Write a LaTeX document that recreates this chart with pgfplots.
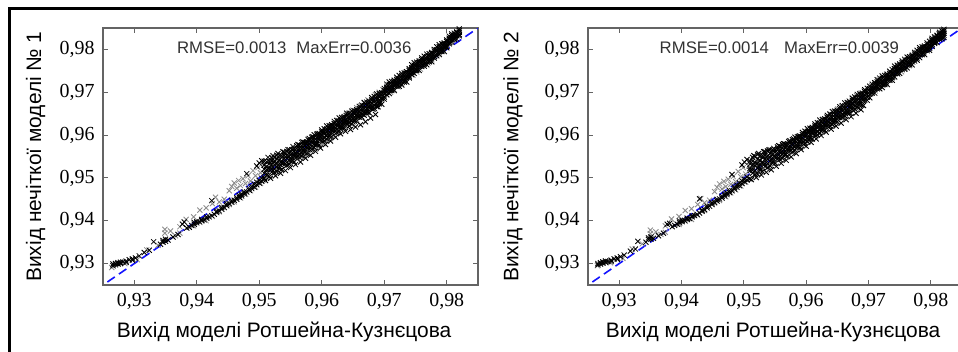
\documentclass[border=0pt]{standalone}
\usepackage{pgfplots}
\usepackage{pgfplotstable}
\pgfplotsset{compat=1.18}
\usepackage{fontspec}
\setmainfont{Liberation Sans}
\newfontfamily\serifnum{Liberation Serif}
\definecolor{axgray}{RGB}{100,100,100}
\definecolor{ptgray}{RGB}{140,140,140}
\definecolor{txtgray}{RGB}{50,50,50}
\definecolor{dblue}{RGB}{20,20,255}

% ---- model 1, black points ----
\pgfplotstableread{
x a b c d e
0.9266 0.9295 0.9299 nan nan nan
0.9270 0.9300 0.9297 nan nan nan
0.9274 0.9302 0.9299 nan nan nan
0.9278 0.9303 0.9300 nan nan nan
0.9282 0.9304 nan nan nan nan
0.9287 0.9306 0.9303 nan nan nan
0.9292 0.9309 nan nan nan nan
0.9297 0.9311 0.9308 nan nan nan
0.9302 0.9313 nan nan nan nan
0.9308 0.9318 nan nan nan nan
0.9316 0.9326 nan nan nan nan
0.9324 0.9331 nan nan nan nan
0.9331 0.9351 nan nan nan nan
0.9342 0.9345 nan nan nan nan
0.9346 0.9350 0.9354 nan nan nan
0.9350 0.9352 0.9357 nan nan nan
0.9354 0.9355 nan nan nan nan
0.9362 0.9362 nan nan nan nan
0.9370 0.9368 nan nan nan nan
0.9377 0.9392 nan nan nan nan
0.9380 0.9397 nan nan nan nan
0.9384 0.9383 nan nan nan nan
0.9388 0.9385 nan nan nan nan
0.9392 0.9389 nan nan nan nan
0.9396 0.9392 0.9396 nan nan nan
0.9400 0.9395 0.9398 nan nan nan
0.9404 0.9398 nan nan nan nan
0.9408 0.9400 0.9403 nan nan nan
0.9412 0.9402 nan nan nan nan
0.9416 0.9406 0.9409 nan nan nan
0.9420 0.9409 nan nan nan nan
0.9424 0.9412 0.9447 nan nan nan
0.9428 0.9415 nan nan nan nan
0.9432 0.9419 0.9422 nan nan nan
0.9436 0.9423 nan nan nan nan
0.9440 0.9427 0.9431 nan nan nan
0.9444 0.9431 nan nan nan nan
0.9448 0.9435 0.9439 nan nan nan
0.9452 0.9440 nan nan nan nan
0.9456 0.9443 0.9447 nan nan nan
0.9460 0.9448 nan nan nan nan
0.9464 0.9450 0.9454 nan nan nan
0.9468 0.9455 0.9459 nan nan nan
0.9472 0.9458 0.9462 nan nan nan
0.9476 0.9463 0.9467 nan nan nan
0.9480 0.9467 0.9510 nan nan nan
0.9484 0.9471 0.9475 nan nan nan
0.9488 0.9475 0.9480 nan nan nan
0.9492 0.9479 0.9485 nan nan nan
0.9496 0.9484 0.9490 0.9528 nan nan
0.9500 0.9488 0.9494 0.9535 nan nan
0.9504 0.9492 0.9499 0.9540 nan nan
0.9508 0.9499 0.9511 0.9520 0.9530 0.9539
0.9512 0.9506 0.9510 0.9519 0.9527 0.9538
0.9516 0.9503 0.9520 0.9524 0.9533 0.9539
0.9520 0.9514 0.9521 0.9531 0.9540 0.9547
0.9524 0.9513 0.9521 0.9531 0.9537 0.9548
0.9528 0.9515 0.9526 0.9535 0.9544 0.9553
0.9532 0.9522 0.9526 0.9534 0.9542 0.9552
0.9536 0.9520 0.9535 0.9539 0.9548 0.9552
0.9540 0.9531 0.9536 0.9546 0.9553 0.9560
0.9544 0.9529 0.9536 0.9546 0.9552 0.9562
0.9548 0.9532 0.9542 0.9550 0.9558 0.9566
0.9552 0.9539 0.9543 0.9550 0.9557 0.9566
0.9556 0.9537 0.9551 0.9555 0.9563 0.9568
0.9560 0.9549 0.9554 0.9562 0.9569 0.9575
0.9564 0.9548 0.9554 0.9563 0.9568 0.9577
0.9568 0.9551 0.9560 0.9568 0.9575 0.9583
0.9572 0.9559 0.9562 0.9568 0.9575 0.9583
0.9576 0.9557 0.9570 0.9573 0.9580 0.9584
0.9580 0.9567 0.9572 0.9580 0.9587 0.9592
0.9584 0.9567 0.9574 0.9582 0.9587 0.9595
0.9588 0.9571 0.9579 0.9587 0.9594 0.9601
0.9592 0.9578 0.9581 0.9587 0.9594 0.9602
0.9596 0.9577 0.9590 0.9593 0.9600 0.9604
0.9600 0.9587 0.9592 0.9600 0.9607 0.9612
0.9604 0.9587 0.9594 0.9602 0.9607 0.9615
0.9608 0.9591 0.9599 0.9607 0.9614 0.9621
0.9612 0.9598 0.9601 0.9607 0.9614 0.9622
0.9616 0.9597 0.9610 0.9613 0.9620 0.9624
0.9620 0.9607 0.9612 0.9620 0.9627 0.9632
0.9624 0.9606 0.9613 0.9621 0.9626 0.9634
0.9628 0.9610 0.9618 0.9626 0.9633 0.9640
0.9632 0.9617 0.9620 0.9626 0.9633 0.9641
0.9636 0.9616 0.9629 0.9632 0.9639 0.9643
0.9640 0.9626 0.9631 0.9639 0.9646 0.9651
0.9644 0.9622 0.9629 0.9637 0.9642 0.9650
0.9648 0.9626 0.9634 0.9642 0.9649 0.9656
0.9652 0.9633 0.9636 0.9642 0.9649 0.9657
0.9656 0.9632 0.9645 0.9648 0.9655 0.9659
0.9660 0.9642 0.9647 0.9655 0.9662 0.9667
0.9664 0.9642 0.9649 0.9657 0.9662 0.9670
0.9668 0.9646 0.9654 0.9662 0.9669 0.9676
0.9672 0.9653 0.9656 0.9662 0.9669 0.9677
0.9676 0.9652 0.9665 0.9668 0.9675 0.9679
0.9680 0.9662 0.9667 0.9675 0.9682 0.9687
0.9684 0.9662 0.9669 0.9677 0.9682 0.9690
0.9688 0.9666 0.9674 0.9682 0.9689 0.9696
0.9692 0.9673 0.9676 0.9682 0.9689 0.9697
0.9696 0.9672 0.9685 0.9688 0.9695 0.9699
0.9700 0.9684 0.9689 0.9697 0.9704 0.9709
0.9704 0.9694 0.9700 0.9707 0.9711 0.9719
0.9708 0.9697 0.9705 0.9711 0.9718 0.9724
0.9712 0.9704 0.9707 0.9713 0.9718 0.9725
0.9716 0.9704 0.9715 0.9718 0.9724 0.9728
0.9720 0.9714 0.9718 0.9725 0.9730 0.9735
0.9724 0.9714 0.9720 0.9727 0.9731 0.9739
0.9728 0.9717 0.9725 0.9731 0.9738 0.9744
0.9732 0.9724 0.9727 0.9733 0.9738 0.9745
0.9736 0.9724 0.9735 0.9738 0.9744 0.9748
0.9740 0.9734 0.9738 0.9745 0.9750 0.9755
0.9744 0.9741 0.9746 0.9753 0.9757 0.9764
0.9748 0.9744 0.9751 0.9757 0.9763 0.9769
0.9752 0.9751 0.9753 0.9759 0.9764 0.9770
0.9756 0.9751 0.9761 0.9764 0.9770 0.9773
0.9760 0.9760 0.9764 0.9771 0.9776 0.9780
0.9764 0.9761 0.9766 0.9773 0.9777 0.9784
0.9768 0.9764 0.9771 0.9777 0.9783 0.9789
0.9772 0.9771 0.9773 0.9779 0.9784 0.9790
0.9776 0.9771 0.9781 0.9784 0.9790 0.9793
0.9780 0.9780 0.9784 0.9791 0.9796 0.9800
0.9784 0.9785 0.9790 0.9796 0.9799 0.9806
0.9788 0.9788 0.9795 0.9800 0.9806 0.9811
0.9792 0.9795 0.9797 0.9802 0.9807 0.9813
0.9796 0.9795 0.9805 0.9807 0.9812 0.9815
0.9800 0.9804 0.9807 0.9813 0.9818 0.9822
0.9804 0.9813 0.9817 0.9823 0.9826 0.9831
0.9808 0.9817 0.9822 0.9827 0.9832 0.9836
0.9812 0.9823 0.9825 0.9829 0.9833 0.9838
0.9816 0.9824 0.9832 0.9834 0.9839 0.9841
0.9820 0.9832 0.9835 0.9840 0.9844 0.9848
}\blackA

% ---- model 1, extra black points at the edges of the band ----
\pgfplotstableread{
x f
0.9510 0.9494
0.9514 0.9548
0.9518 0.9499
0.9522 0.9552
0.9526 0.9505
0.9530 0.9557
0.9534 0.9511
0.9538 0.9561
0.9542 0.9517
0.9546 0.9566
0.9550 0.9524
0.9554 0.9573
0.9558 0.9531
0.9562 0.9578
0.9566 0.9537
0.9570 0.9584
0.9574 0.9546
0.9578 0.9590
0.9582 0.9553
0.9586 0.9596
0.9590 0.9562
0.9594 0.9603
0.9598 0.9570
0.9602 0.9606
0.9606 0.9578
0.9610 0.9612
0.9614 0.9586
0.9618 0.9617
0.9622 0.9595
0.9626 0.9623
0.9630 0.9603
0.9634 0.9628
0.9638 0.9609
0.9642 0.9632
0.9646 0.9613
0.9650 0.9638
0.9654 0.9619
0.9658 0.9643
0.9662 0.9624
0.9666 0.9648
0.9670 0.9631
0.9674 0.9653
0.9678 0.9640
0.9682 0.9660
0.9686 0.9648
0.9690 0.9666
}\edgeA

% ---- model 1, grey points ----
\pgfplotstableread{
x g h
0.9264 0.9291 nan
0.9285 0.9300 nan
0.9305 0.9309 nan
0.9320 0.9332 nan
0.9338 0.9343 nan
0.9349 0.9380 0.9371
0.9358 0.9376 nan
0.9366 0.9365 nan
0.9373 0.9386 0.9371
0.9383 0.9403 nan
0.9395 0.9409 0.9388
0.9405 0.9425 0.9396
0.9415 0.9400 0.9430
0.9425 0.9410 0.9440
0.9430 0.9455 nan
0.9436 0.9444 0.9421
0.9444 0.9450 nan
0.9452 0.9470 0.9438
0.9456 0.9480 nan
0.9460 0.9488 0.9444
0.9464 0.9476 nan
0.9467 0.9494 nan
0.9470 0.9482 0.9453
0.9474 0.9498 nan
0.9478 0.9487 0.9462
0.9482 0.9505 nan
0.9486 0.9493 0.9470
0.9490 0.9517 nan
0.9494 0.9505 0.9478
0.9498 0.9524 nan
0.9502 0.9512 0.9487
0.9507 0.9530 0.9495
0.9512 0.9520 0.9500
0.9518 0.9531 0.9505
0.9524 0.9540 0.9512
0.9530 0.9548 0.9518
0.9536 0.9520 0.9535
0.9542 0.9527 0.9555
0.9548 0.9535 0.9560
0.9554 0.9538 0.9566
0.9560 0.9544 0.9552
0.9566 0.9552 0.9570
0.9572 0.9550 0.9566
0.9578 0.9556 0.9583
0.9584 0.9562 0.9590
0.9590 0.9567 0.9575
0.9596 0.9572 0.9600
0.9602 0.9580 0.9608
0.9608 0.9586 0.9613
0.9614 0.9592 0.9620
0.9620 0.9600 0.9626
0.9626 0.9606 0.9634
0.9632 0.9612 0.9640
0.9638 0.9618 0.9646
0.9644 0.9622 0.9652
0.9650 0.9630 0.9658
0.9656 0.9636 0.9664
0.9662 0.9642 0.9668
0.9668 0.9650 0.9675
0.9674 0.9658 0.9682
0.9680 0.9665 0.9688
0.9686 0.9672 0.9694
0.9692 0.9680 0.9700
0.9698 0.9686 0.9706
0.9704 0.9694 0.9714
0.9710 0.9700 0.9720
0.9716 0.9706 0.9727
0.9722 0.9713 0.9733
0.9728 0.9720 0.9740
0.9734 0.9726 0.9747
0.9740 0.9733 0.9753
0.9746 0.9740 0.9760
0.9752 0.9747 0.9766
0.9758 0.9754 0.9773
0.9764 0.9761 0.9779
0.9770 0.9768 0.9786
0.9776 0.9776 0.9792
0.9782 0.9785 0.9799
0.9788 0.9792 0.9806
0.9794 0.9800 0.9813
0.9800 0.9808 0.9820
0.9806 0.9816 0.9828
0.9812 0.9825 0.9835
}\greyA

% ---- model 2, black points ----
\pgfplotstableread{
x a b c d e
0.9266 0.9297 0.9300 nan nan nan
0.9270 0.9302 0.9299 nan nan nan
0.9274 0.9304 0.9301 nan nan nan
0.9278 0.9306 0.9303 nan nan nan
0.9282 0.9305 nan nan nan nan
0.9287 0.9308 0.9305 nan nan nan
0.9292 0.9311 nan nan nan nan
0.9297 0.9313 0.9310 nan nan nan
0.9302 0.9316 nan nan nan nan
0.9308 0.9320 nan nan nan nan
0.9318 0.9329 nan nan nan nan
0.9326 0.9334 nan nan nan nan
0.9330 0.9352 nan nan nan nan
0.9343 0.9350 nan nan nan nan
0.9347 0.9356 0.9360 nan nan nan
0.9351 0.9357 0.9362 nan nan nan
0.9355 0.9359 nan nan nan nan
0.9363 0.9365 nan nan nan nan
0.9371 0.9371 nan nan nan nan
0.9377 0.9392 nan nan nan nan
0.9381 0.9394 nan nan nan nan
0.9385 0.9386 nan nan nan nan
0.9389 0.9389 nan nan nan nan
0.9393 0.9392 nan nan nan nan
0.9397 0.9395 0.9399 nan nan nan
0.9401 0.9398 0.9401 nan nan nan
0.9405 0.9401 nan nan nan nan
0.9409 0.9403 0.9406 nan nan nan
0.9413 0.9405 nan nan nan nan
0.9417 0.9409 0.9412 nan nan nan
0.9421 0.9412 nan nan nan nan
0.9425 0.9415 nan nan nan nan
0.9429 0.9418 0.9451 nan nan nan
0.9433 0.9422 0.9425 nan nan nan
0.9437 0.9426 nan nan nan nan
0.9441 0.9430 0.9434 nan nan nan
0.9445 0.9434 nan nan nan nan
0.9449 0.9438 0.9442 nan nan nan
0.9453 0.9443 nan nan nan nan
0.9457 0.9446 0.9450 nan nan nan
0.9461 0.9451 nan nan nan nan
0.9465 0.9453 0.9457 nan nan nan
0.9469 0.9458 0.9462 nan nan nan
0.9473 0.9461 0.9465 nan nan nan
0.9477 0.9466 0.9470 nan nan nan
0.9481 0.9470 0.9508 nan nan nan
0.9485 0.9474 0.9478 nan nan nan
0.9489 0.9478 0.9483 nan nan nan
0.9493 0.9482 0.9488 nan nan nan
0.9497 0.9487 0.9493 0.9530 nan nan
0.9501 0.9491 0.9497 0.9537 nan nan
0.9505 0.9495 0.9502 0.9543 nan nan
0.9510 0.9498 0.9517 0.9522 0.9533 0.9539
0.9514 0.9511 0.9518 0.9530 0.9539 0.9548
0.9518 0.9508 0.9517 0.9529 0.9536 0.9550
0.9522 0.9509 0.9523 0.9533 0.9544 0.9555
0.9526 0.9519 0.9523 0.9532 0.9541 0.9552
0.9530 0.9515 0.9533 0.9537 0.9547 0.9552
0.9534 0.9527 0.9533 0.9544 0.9553 0.9561
0.9538 0.9524 0.9533 0.9544 0.9551 0.9563
0.9542 0.9528 0.9539 0.9548 0.9557 0.9566
0.9546 0.9535 0.9539 0.9547 0.9555 0.9565
0.9550 0.9534 0.9548 0.9552 0.9560 0.9565
0.9554 0.9544 0.9550 0.9559 0.9566 0.9572
0.9558 0.9543 0.9550 0.9559 0.9564 0.9574
0.9562 0.9546 0.9555 0.9563 0.9570 0.9578
0.9566 0.9553 0.9556 0.9563 0.9570 0.9579
0.9570 0.9551 0.9565 0.9568 0.9576 0.9580
0.9574 0.9562 0.9567 0.9575 0.9582 0.9587
0.9578 0.9561 0.9568 0.9576 0.9581 0.9589
0.9582 0.9565 0.9573 0.9581 0.9588 0.9595
0.9586 0.9572 0.9575 0.9581 0.9588 0.9596
0.9590 0.9571 0.9584 0.9587 0.9594 0.9598
0.9594 0.9581 0.9586 0.9594 0.9601 0.9606
0.9598 0.9581 0.9588 0.9596 0.9601 0.9609
0.9602 0.9585 0.9593 0.9601 0.9608 0.9615
0.9606 0.9592 0.9595 0.9601 0.9608 0.9616
0.9610 0.9591 0.9604 0.9607 0.9614 0.9618
0.9614 0.9601 0.9606 0.9614 0.9621 0.9626
0.9618 0.9601 0.9608 0.9616 0.9621 0.9629
0.9622 0.9605 0.9613 0.9621 0.9628 0.9635
0.9626 0.9612 0.9615 0.9621 0.9628 0.9636
0.9630 0.9611 0.9624 0.9627 0.9634 0.9638
0.9634 0.9621 0.9626 0.9634 0.9641 0.9646
0.9638 0.9621 0.9628 0.9636 0.9641 0.9649
0.9642 0.9625 0.9633 0.9641 0.9648 0.9655
0.9646 0.9632 0.9635 0.9641 0.9648 0.9656
0.9650 0.9631 0.9644 0.9647 0.9654 0.9658
0.9654 0.9641 0.9646 0.9654 0.9661 0.9666
0.9658 0.9641 0.9648 0.9656 0.9661 0.9669
0.9662 0.9645 0.9653 0.9661 0.9668 0.9675
0.9666 0.9652 0.9655 0.9661 0.9668 0.9676
0.9670 0.9651 0.9664 0.9667 0.9674 0.9678
0.9674 0.9661 0.9666 0.9674 0.9681 0.9686
0.9678 0.9661 0.9668 0.9676 0.9681 0.9689
0.9682 0.9665 0.9673 0.9681 0.9688 0.9695
0.9686 0.9672 0.9675 0.9681 0.9688 0.9696
0.9690 0.9671 0.9684 0.9687 0.9694 0.9698
0.9694 0.9681 0.9686 0.9694 0.9701 0.9706
0.9698 0.9681 0.9688 0.9696 0.9701 0.9709
0.9702 0.9687 0.9695 0.9701 0.9708 0.9714
0.9706 0.9698 0.9701 0.9707 0.9712 0.9719
0.9710 0.9698 0.9709 0.9712 0.9718 0.9722
0.9714 0.9708 0.9712 0.9719 0.9724 0.9729
0.9718 0.9708 0.9714 0.9721 0.9725 0.9733
0.9722 0.9711 0.9719 0.9725 0.9732 0.9738
0.9726 0.9718 0.9721 0.9727 0.9732 0.9739
0.9730 0.9718 0.9729 0.9732 0.9738 0.9742
0.9734 0.9728 0.9732 0.9739 0.9744 0.9749
0.9738 0.9728 0.9734 0.9741 0.9745 0.9753
0.9742 0.9736 0.9743 0.9749 0.9755 0.9761
0.9746 0.9744 0.9746 0.9752 0.9757 0.9763
0.9750 0.9744 0.9754 0.9757 0.9763 0.9766
0.9754 0.9753 0.9757 0.9764 0.9769 0.9773
0.9758 0.9754 0.9759 0.9766 0.9770 0.9777
0.9762 0.9757 0.9764 0.9770 0.9776 0.9782
0.9766 0.9764 0.9766 0.9772 0.9777 0.9783
0.9770 0.9764 0.9774 0.9777 0.9783 0.9786
0.9774 0.9773 0.9777 0.9784 0.9789 0.9793
0.9778 0.9775 0.9780 0.9787 0.9791 0.9798
0.9782 0.9781 0.9788 0.9793 0.9799 0.9804
0.9786 0.9788 0.9790 0.9795 0.9800 0.9806
0.9790 0.9788 0.9798 0.9800 0.9805 0.9808
0.9794 0.9797 0.9800 0.9806 0.9811 0.9815
0.9798 0.9798 0.9803 0.9809 0.9812 0.9819
0.9802 0.9807 0.9812 0.9817 0.9822 0.9826
0.9806 0.9814 0.9816 0.9820 0.9824 0.9829
0.9810 0.9816 0.9824 0.9826 0.9831 0.9833
0.9814 0.9824 0.9827 0.9832 0.9836 0.9840
0.9818 0.9825 0.9829 0.9835 0.9838 0.9843
0.9821 0.9828 0.9833 0.9838 0.9843 0.9847
}\blackB

% ---- model 2, extra black points at the edges of the band ----
\pgfplotstableread{
x f
0.9512 0.9496
0.9516 0.9552
0.9520 0.9501
0.9524 0.9557
0.9528 0.9507
0.9532 0.9561
0.9536 0.9513
0.9540 0.9565
0.9544 0.9519
0.9548 0.9569
0.9552 0.9527
0.9556 0.9575
0.9560 0.9534
0.9564 0.9580
0.9568 0.9541
0.9572 0.9585
0.9576 0.9549
0.9580 0.9591
0.9584 0.9557
0.9588 0.9597
0.9592 0.9566
0.9596 0.9603
0.9600 0.9574
0.9604 0.9608
0.9608 0.9583
0.9612 0.9614
0.9616 0.9591
0.9620 0.9619
0.9624 0.9599
0.9628 0.9625
0.9632 0.9607
0.9636 0.9631
0.9640 0.9614
0.9644 0.9636
0.9648 0.9621
0.9652 0.9641
0.9656 0.9628
0.9660 0.9647
0.9664 0.9636
0.9668 0.9652
0.9672 0.9643
0.9676 0.9657
0.9680 0.9651
0.9684 0.9663
0.9688 0.9659
0.9692 0.9669
}\edgeB

% ---- model 2, grey points ----
\pgfplotstableread{
x g h
0.9265 0.9295 nan
0.9286 0.9302 nan
0.9306 0.9312 nan
0.9321 0.9334 nan
0.9337 0.9346 nan
0.9350 0.9378 0.9370
0.9359 0.9374 nan
0.9367 0.9368 nan
0.9374 0.9388 0.9373
0.9384 0.9404 nan
0.9396 0.9410 0.9391
0.9406 0.9424 0.9399
0.9416 0.9403 0.9428
0.9426 0.9413 0.9438
0.9431 0.9452 nan
0.9437 0.9442 0.9424
0.9445 0.9448 nan
0.9453 0.9468 0.9441
0.9457 0.9478 nan
0.9461 0.9486 0.9447
0.9465 0.9474 nan
0.9468 0.9492 nan
0.9471 0.9480 0.9456
0.9475 0.9497 nan
0.9479 0.9485 0.9465
0.9483 0.9503 nan
0.9487 0.9491 0.9472
0.9491 0.9515 nan
0.9495 0.9503 0.9481
0.9499 0.9524 nan
0.9503 0.9509 0.9490
0.9508 0.9528 0.9497
0.9513 0.9522 0.9502
0.9519 0.9533 0.9508
0.9525 0.9542 0.9515
0.9531 0.9550 0.9520
0.9537 0.9523 0.9538
0.9543 0.9530 0.9557
0.9549 0.9538 0.9562
0.9555 0.9541 0.9568
0.9561 0.9547 0.9555
0.9567 0.9556 0.9572
0.9573 0.9553 0.9569
0.9579 0.9560 0.9585
0.9585 0.9566 0.9592
0.9591 0.9571 0.9578
0.9597 0.9576 0.9603
0.9603 0.9584 0.9611
0.9609 0.9590 0.9616
0.9615 0.9597 0.9622
0.9621 0.9604 0.9629
0.9627 0.9610 0.9637
0.9633 0.9616 0.9643
0.9639 0.9622 0.9649
0.9645 0.9628 0.9655
0.9651 0.9636 0.9661
0.9657 0.9642 0.9667
0.9663 0.9648 0.9673
0.9669 0.9656 0.9680
0.9675 0.9663 0.9686
0.9681 0.9670 0.9692
0.9687 0.9677 0.9698
0.9693 0.9684 0.9703
0.9699 0.9690 0.9709
0.9705 0.9697 0.9716
0.9711 0.9703 0.9722
0.9717 0.9709 0.9729
0.9723 0.9716 0.9735
0.9729 0.9722 0.9742
0.9735 0.9729 0.9748
0.9741 0.9735 0.9755
0.9747 0.9742 0.9761
0.9753 0.9748 0.9768
0.9759 0.9755 0.9774
0.9765 0.9762 0.9781
0.9771 0.9770 0.9787
0.9777 0.9778 0.9793
0.9783 0.9786 0.9800
0.9789 0.9793 0.9807
0.9795 0.9801 0.9814
0.9801 0.9809 0.9821
0.9807 0.9817 0.9829
0.9813 0.9826 0.9836
}\greyB

\pgfplotsset{
  myax/.style={
    scale only axis, height=257bp,
    xmin=0.925, xmax=0.985, ymin=0.925, ymax=0.985,
    xtick={0.93,0.94,0.95,0.96,0.97,0.98},
    ytick={0.93,0.94,0.95,0.96,0.97,0.98},
    tick align=inside, major tick length=4.5bp,
    axis line style={color=axgray, line width=1.1bp},
    tick style={color=axgray, line width=0.9bp},
    tick label style={font=\serifnum\fontsize{20}{24}\selectfont, text=black},
    xticklabel style={yshift=-5bp},
    yticklabel style={xshift=-5bp},
    /pgf/number format/.cd, use comma, fixed, precision=2, fixed zerofill, assume math mode=true,
    /pgfplots/.cd,
    label style={font=\fontsize{21}{24}\selectfont},
    clip=true,
  },
  gpts/.style={only marks, mark=x, mark size=3.6bp, color=ptgray, mark options={line width=0.85bp}},
  bpts/.style={only marks, mark=x, mark size=3.6bp, color=black, mark options={line width=0.85bp}},
  diag/.style={color=dblue, line width=1.6bp, dash pattern=on 9bp off 5bp},
}

\begin{document}
\begin{tikzpicture}
\useasboundingbox (0,0) rectangle (958bp,352bp);
\begin{scope}
\clip (0,0) rectangle (958bp,352bp);
\draw[line width=2.6bp, black] (9.5bp,0) -- (9.5bp,343.5bp) -- (960bp,343.5bp);

% ---------------- left panel ----------------
\begin{axis}[myax, width=375bp, at={(103bp,67bp)}, anchor=south west,
  xlabel={Вихід моделі Ротшейна-Кузнєцова},
  ylabel={Вихід нечіткої моделі № 1},
  xlabel style={at={(axis description cs:0.483,-0.206)}, anchor=base},
  ylabel style={at={(axis description cs:-0.165,0.5)}, anchor=base, rotate=0},
]
\addplot[gpts] table[x=x, y=g] {\greyA};
\addplot[gpts] table[x=x, y=h] {\greyA};
\addplot[bpts] table[x=x, y=a] {\blackA};
\addplot[bpts] table[x=x, y=b] {\blackA};
\addplot[bpts] table[x=x, y=c] {\blackA};
\addplot[bpts] table[x=x, y=d] {\blackA};
\addplot[bpts] table[x=x, y=e] {\blackA};
\addplot[bpts] table[x=x, y=f] {\edgeA};
\addplot[diag] coordinates {(0.9257,0.9257) (0.9860,0.9860)};
\node[anchor=base, text=txtgray, font=\fontsize{16.8}{20}\selectfont] at (axis cs:0.9556,0.9791) {RMSE=0.0013\hspace{0.6em}MaxErr=0.0036};
\end{axis}

% ---------------- right panel ----------------
\begin{axis}[myax, width=374bp, at={(588bp,67bp)}, anchor=south west,
  xlabel={Вихід моделі Ротшейна-Кузнєцова},
  ylabel={Вихід нечіткої моделі № 2},
  xlabel style={at={(axis description cs:0.495,-0.206)}, anchor=base},
  ylabel style={at={(axis description cs:-0.186,0.5)}, anchor=base, rotate=0},
]
\addplot[gpts] table[x=x, y=g] {\greyB};
\addplot[gpts] table[x=x, y=h] {\greyB};
\addplot[bpts] table[x=x, y=a] {\blackB};
\addplot[bpts] table[x=x, y=b] {\blackB};
\addplot[bpts] table[x=x, y=c] {\blackB};
\addplot[bpts] table[x=x, y=d] {\blackB};
\addplot[bpts] table[x=x, y=e] {\blackB};
\addplot[bpts] table[x=x, y=f] {\edgeB};
\addplot[diag] coordinates {(0.9257,0.9257) (0.9860,0.9860)};
\node[anchor=base, text=txtgray, font=\fontsize{16.8}{20}\selectfont] at (axis cs:0.9557,0.9791) {RMSE=0.0014\hspace{0.9em}MaxErr=0.0039};
\end{axis}
\end{scope}
\end{tikzpicture}
\end{document}
